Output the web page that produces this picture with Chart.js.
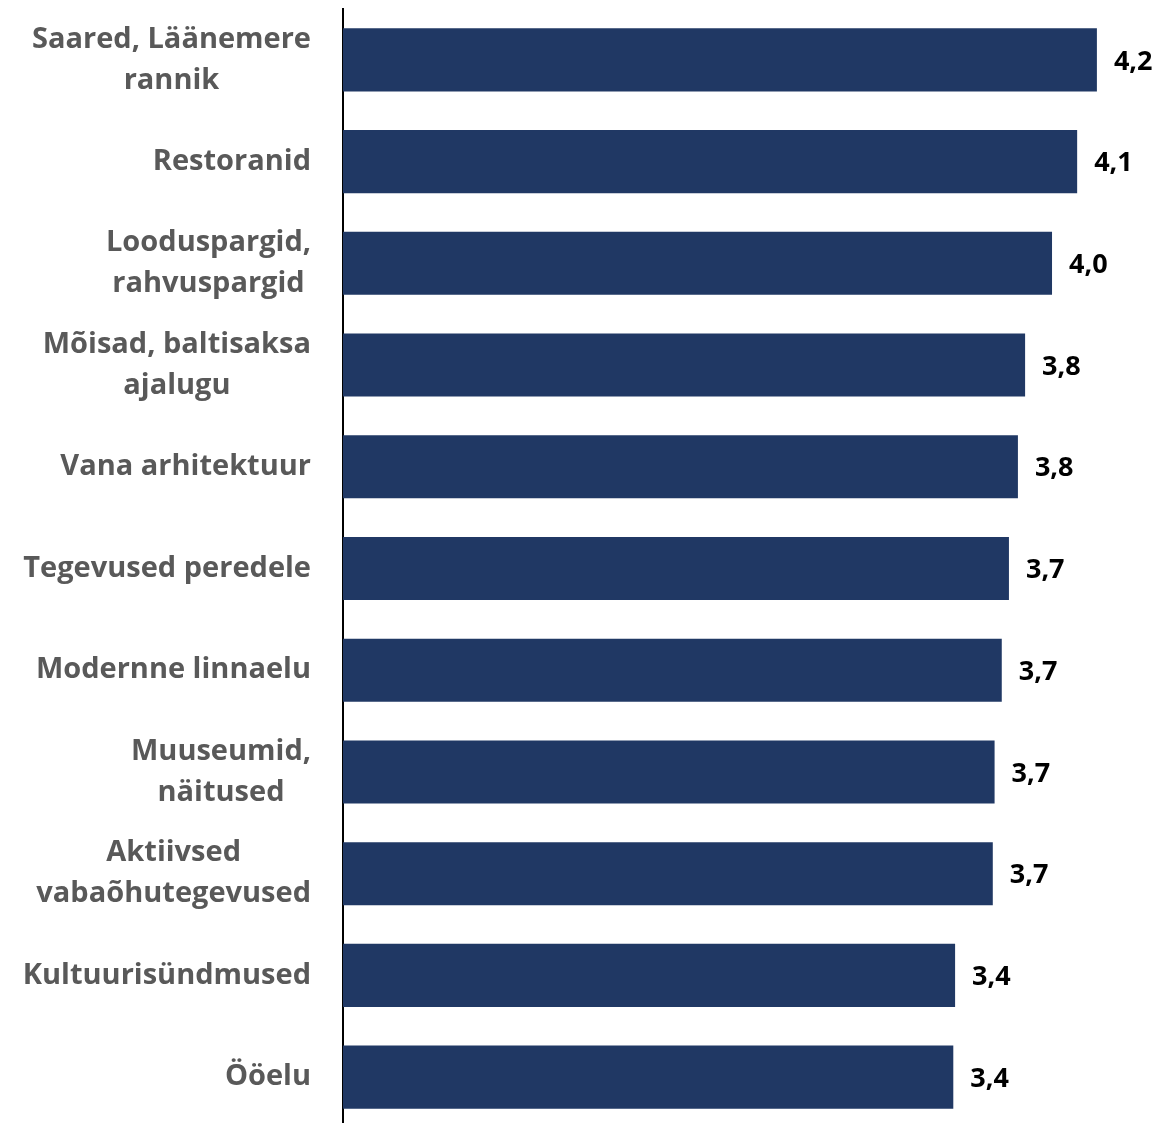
<!DOCTYPE html>
<html>
<head>
<meta charset="utf-8">
<script src="https://cdn.jsdelivr.net/npm/chart.js@4/dist/chart.umd.min.js"></script>
<style>
  html, body { margin: 0; padding: 0; background: #ffffff; overflow: hidden; }
  #wrap { width: 1158px; height: 1130px; }
</style>
</head>
<body>
<div id="wrap"><canvas id="c" width="1158" height="1130"></canvas></div>
<script>
const categories = [
  ["Saared, Läänemere", "rannik"],
  ["Restoranid"],
  ["Looduspargid,", "rahvuspargid"],
  ["Mõisad, baltisaksa", "ajalugu"],
  ["Vana arhitektuur"],
  ["Tegevused peredele"],
  ["Modernne linnaelu"],
  ["Muuseumid,", "näitused"],
  ["Aktiivsed", "vabaõhutegevused"],
  ["Kultuurisündmused"],
  ["Ööelu"]
];
const values = [4.20, 4.09, 3.95, 3.80, 3.76, 3.71, 3.67, 3.63, 3.62, 3.41, 3.40];
const valueLabels = ["4,2", "4,1", "4,0", "3,8", "3,8", "3,7", "3,7", "3,7", "3,7", "3,4", "3,4"];

const LABEL_FONT = "bold 29px 'Open Sans'";
const VALUE_FONT = "bold 27px 'Open Sans'";

const labelPlugin = {
  id: 'customLabels',
  afterDatasetsDraw(chart) {
    const ctx = chart.ctx;
    const yScale = chart.scales.y;
    const meta = chart.getDatasetMeta(0);
    ctx.save();
    ctx.font = LABEL_FONT;
    ctx.fillStyle = '#595959';
    ctx.textAlign = 'center';
    ctx.textBaseline = 'middle';
    const lineH = 41;
    const rightEdge = 311;
    categories.forEach((lines, i) => {
      const cy = yScale.getPixelForValue(i);
      const maxW = Math.max(...lines.map(l => ctx.measureText(l).width));
      const cx = rightEdge - maxW / 2;
      const startY = cy - (lines.length - 1) * lineH / 2;
      lines.forEach((l, k) => ctx.fillText(l, cx, startY + k * lineH));
    });
    ctx.font = VALUE_FONT;
    ctx.fillStyle = '#000000';
    ctx.textAlign = 'left';
    meta.data.forEach((bar, i) => {
      ctx.fillText(valueLabels[i], bar.x + 17, bar.y + 2);
    });
    ctx.restore();
  }
};

new Chart(document.getElementById('c'), {
  type: 'bar',
  data: {
    labels: categories.map(c => c.join(' ')),
    datasets: [{
      data: values,
      backgroundColor: '#203864',
      borderWidth: 0,
      barPercentage: 0.62,
      categoryPercentage: 1.0
    }]
  },
  options: {
    indexAxis: 'y',
    responsive: false,
    animation: false,
    layout: { padding: { top: 9, bottom: 2, left: 0, right: 7.25 } },
    plugins: { legend: { display: false }, tooltip: { enabled: false } },
    scales: {
      x: { display: false, min: 0, max: 4.5 },
      y: {
        afterFit: s => { s.width = 343; },
        ticks: { display: false },
        grid: { display: false, drawTicks: false },
        border: { display: true, color: '#000000', width: 2 }
      }
    }
  },
  plugins: [labelPlugin]
});
</script>
</body>
</html>
